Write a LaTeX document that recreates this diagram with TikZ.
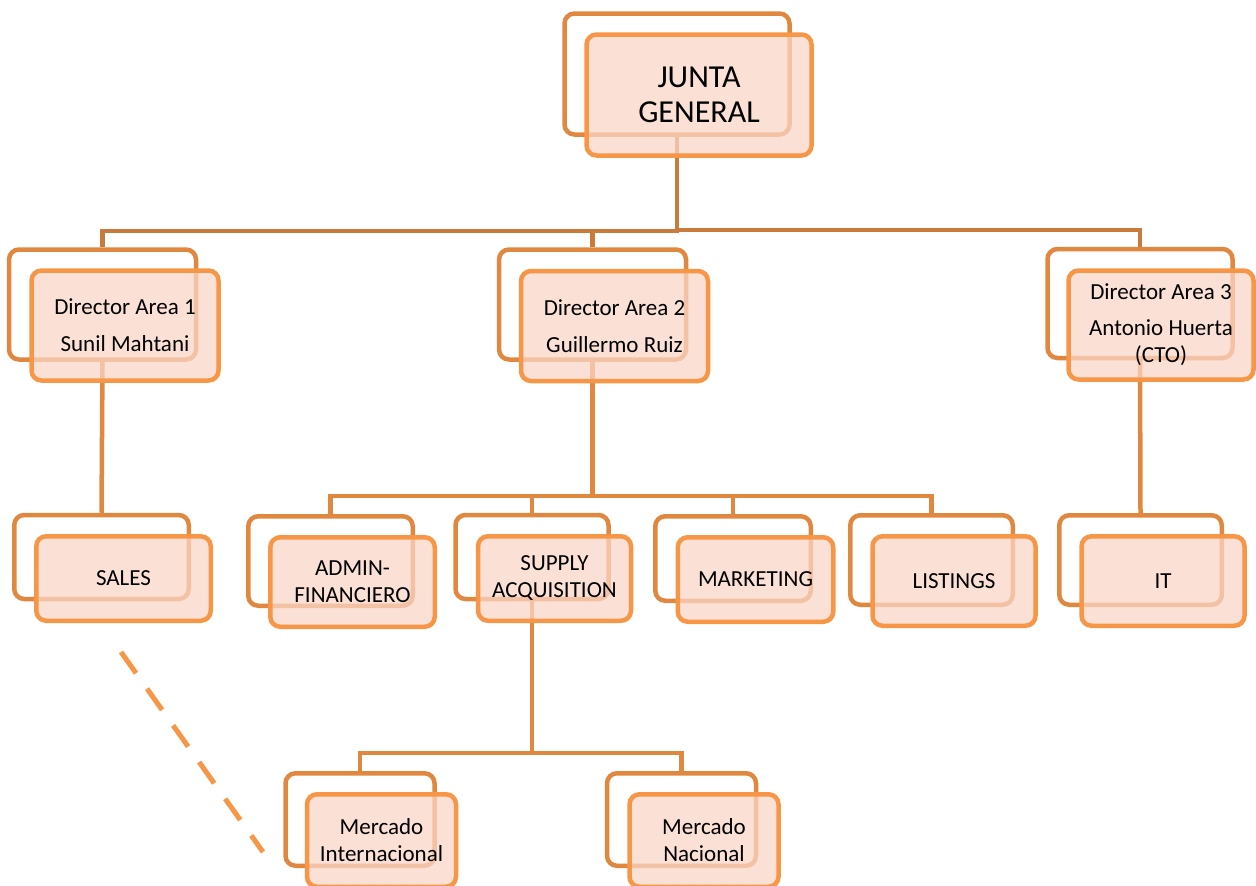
\documentclass[tikz,border=0pt]{standalone}
\usepackage{fontspec}
\setmainfont{Carlito}
\begin{document}
\begin{tikzpicture}[x=1pt,y=-1pt,
  backbox/.style={draw=backc, line width=4.5pt, rounded corners=10pt, inner sep=0pt},
  frontbox/.style={draw=frontc, line width=4.5pt, rounded corners=10pt, fill=fillc, fill opacity=0.75, text opacity=1, inner sep=0pt, align=center, font=\fontsize{23}{27}\selectfont},
  bigtext/.style={font=\fontsize{32}{35}\selectfont},
  conn/.style={draw=connc, line width=4.5pt},
  connb/.style={draw=connd, line width=4.5pt},
  dashline/.style={draw=frontc, line width=5pt, dash pattern=on 26pt off 19pt}
]
\definecolor{backc}{HTML}{E0883F}
\definecolor{frontc}{HTML}{F79646}
\definecolor{fillc}{HTML}{FAD6C7}
\definecolor{connc}{HTML}{C97B3C}
\definecolor{connd}{HTML}{E0883F}
\useasboundingbox (0,0) rectangle (1256,886);

% back boxes
\node[backbox, minimum width=225pt, minimum height=121pt] (bJ) at (677,74) {};
\node[backbox, minimum width=187pt, minimum height=110pt] (bD1) at (102.5,304.5) {};
\node[backbox, minimum width=187pt, minimum height=110pt] (bD2) at (592.5,304.5) {};
\node[backbox, minimum width=185pt, minimum height=109pt] (bD3) at (1140,303.5) {};
\node[backbox, minimum width=174.5pt, minimum height=84pt] (bS) at (101.5,557) {};
\node[backbox, minimum width=164.5pt, minimum height=89.5pt] (bA) at (330.5,561) {};
\node[backbox, minimum width=153pt, minimum height=84pt] (bSu) at (532,557) {};
\node[backbox, minimum width=155.5pt, minimum height=84.5pt] (bM) at (733,558.5) {};
\node[backbox, minimum width=162.5pt, minimum height=89.5pt] (bL) at (931.5,560) {};
\node[backbox, minimum width=162.5pt, minimum height=89.5pt] (bIT) at (1140.5,560) {};
\node[backbox, minimum width=149pt, minimum height=92.5pt] (bMI) at (360,819.5) {};
\node[backbox, minimum width=149pt, minimum height=92.5pt] (bMN) at (681.5,819.5) {};

% connectors
\draw[conn] (bJ.south) -- (bJ.south |- 0,231) -| (bD1.north);
\draw[conn] (bJ.south |- 0,231) -| (bD2.north);
\draw[conn] (bJ.south |- 0,230) -| (bD3.north);
\draw[connb] (bD1.south) -- (bS.north);
\draw[connb] (bD2.south) -- (bD2.south |- 0,496) -| (bA.north);
\draw[connb] (bD2.south |- 0,496) -| (bSu.north);
\draw[connb] (bD2.south |- 0,496) -| (bM.north);
\draw[connb] (bD2.south |- 0,496) -| (bL.north);
\draw[connb] (bD3.south) -- (bIT.north);
\draw[connb] (bSu.south) -- (bSu.south |- 0,753) -| (bMI.north);
\draw[connb] (bSu.south |- 0,753) -| (bMN.north);

% front boxes
\node[frontbox, bigtext, minimum width=225pt, minimum height=121pt] (J) at (699,95) {JUNTA\\GENERAL};
\node[frontbox, minimum width=187pt, minimum height=110pt] (D1) at (125,325.5) {Director Area 1\\[10pt]Sunil Mahtani};
\node[frontbox, minimum width=187pt, minimum height=110pt] (D2) at (614.5,326) {Director Area 2\\[10pt]Guillermo Ruiz};
\node[frontbox, minimum width=185pt, minimum height=109pt] (D3) at (1161,325) {Director Area 3\\[9pt]Antonio Huerta\\(CTO)};
\node[frontbox, minimum width=174.5pt, minimum height=84.5pt] (S) at (123.5,578.5) {SALES};
\node[frontbox, minimum width=164.5pt, minimum height=89.5pt] (A) at (352.5,582) {ADMIN-\\FINANCIERO};
\node[frontbox, minimum width=153pt, minimum height=84.5pt] (Su) at (554.5,578.5) {SUPPLY\\ACQUISITION};
\node[frontbox, minimum width=155.5pt, minimum height=84.5pt] (M) at (755.5,579.5) {MARKETING};
\node[frontbox, minimum width=163pt, minimum height=89.5pt] (L) at (954,581) {LISTINGS};
\node[frontbox, minimum width=163pt, minimum height=89.5pt] (IT) at (1163,581) {IT};
\node[frontbox, minimum width=149pt, minimum height=92.5pt] (MI) at (381.5,840.5) {Mercado\\Internacional};
\node[frontbox, minimum width=149pt, minimum height=92.5pt] (MN) at (704,840.5) {Mercado\\Nacional};

% dashed line
\coordinate (d1) at (121,652);
\coordinate (d2) at (263,852);
\draw[dashline] (d1) -- (d2);
\end{tikzpicture}
\end{document}
